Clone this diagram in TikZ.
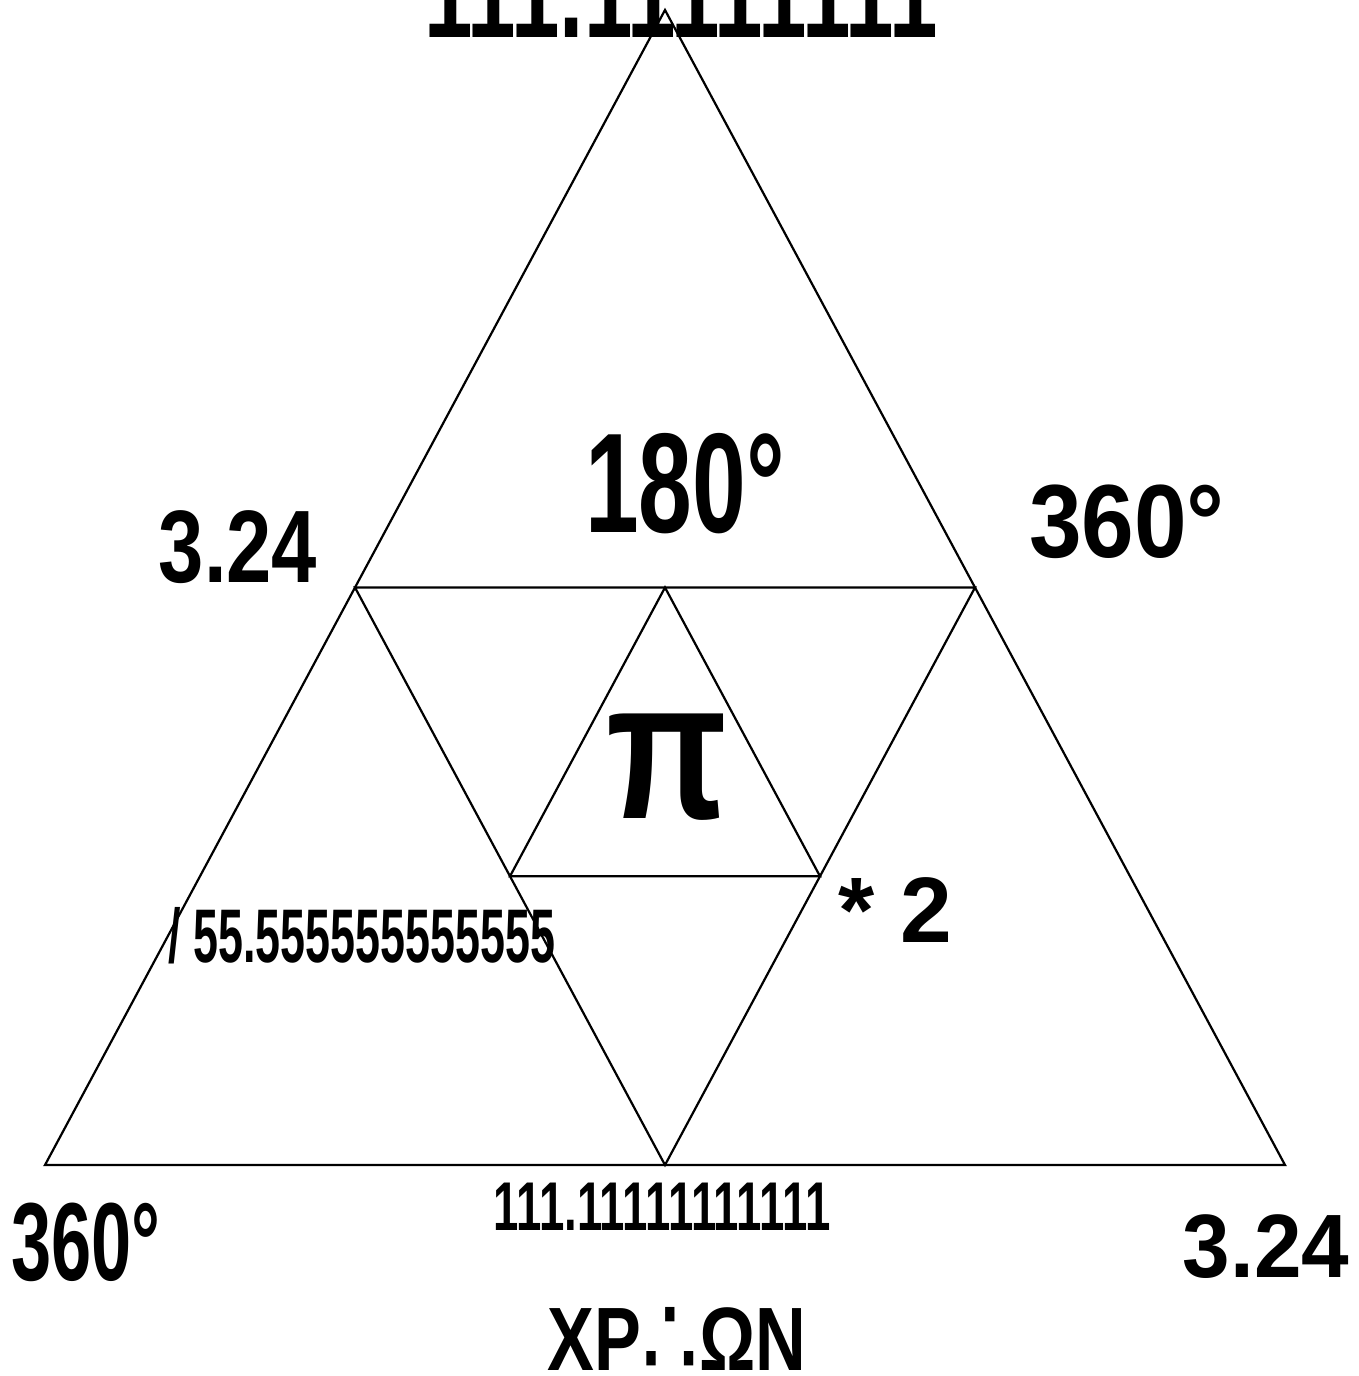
\documentclass[tikz,border=0pt]{standalone}
\usepackage{fontspec}
\setmainfont{Liberation Sans}
\newfontfamily\symf{DejaVu Sans}
\usetikzlibrary{calc}
\newcommand\lbl[3]{\scalebox{#2}[1]{\fontsize{#1}{#1}\selectfont\bfseries #3}}
\begin{document}
\begin{tikzpicture}[x=1pt,y=-1pt,
  edge/.style={draw=black,line width=2.2pt,line join=miter},
  txt/.style={anchor=base,inner sep=0pt,outer sep=0pt}]
\useasboundingbox[fill=white] (0,0) rectangle (1359,1376);
% vertices
\coordinate (A) at (665,10);
\coordinate (B) at (45,1165);
\coordinate (C) at (1285,1165);
\coordinate (AB) at ($(A)!0.5!(B)$);
\coordinate (AC) at ($(A)!0.5!(C)$);
\coordinate (BC) at ($(B)!0.5!(C)$);
\coordinate (P) at ($(AB)!0.5!(AC)$);
\coordinate (Q) at ($(AB)!0.5!(BC)$);
\coordinate (R) at ($(AC)!0.5!(BC)$);
\draw[edge] (A) -- (B) -- (C) -- cycle;
\draw[edge] (AB) -- (AC) -- (BC) -- cycle;
\draw[edge] (P) -- (Q) -- (R) -- cycle;
% labels
\node[txt] (top) at (681,37) {\lbl{130}{0.67}{111.11111111}};
\node[txt] (t180) at (685,532) {\lbl{142}{0.68}{180°}};
\node[txt] (l324) at (238,582) {\lbl{103}{0.79}{3.24}};
\node[txt] (r360) at (1127,557) {\lbl{104}{0.91}{360°}};
\node[txt] (pi) at (667,818) {\lbl{198}{0.80}{π}};
\node[txt] (times) at (895,942) {\lbl{93}{1.0}{* 2}};
\node[txt] (div) at (362,962) {\lbl{76}{0.59}{/ 55.555555555555}};
\node[txt] (bot) at (662,1230) {\lbl{69}{0.66}{111.11111111111}};
\node[txt] (bl360) at (86,1280) {\lbl{111}{0.65}{360°}};
\node[txt] (br324) at (1266,1277) {\lbl{90}{0.95}{3.24}};
\node[txt] (xp) at (677,1370) {\lbl{90}{0.78}{XP\raisebox{-7pt}{\symf\mdseries\fontsize{116}{116}\selectfont ∴}ΩN}};
\end{tikzpicture}
\end{document}
